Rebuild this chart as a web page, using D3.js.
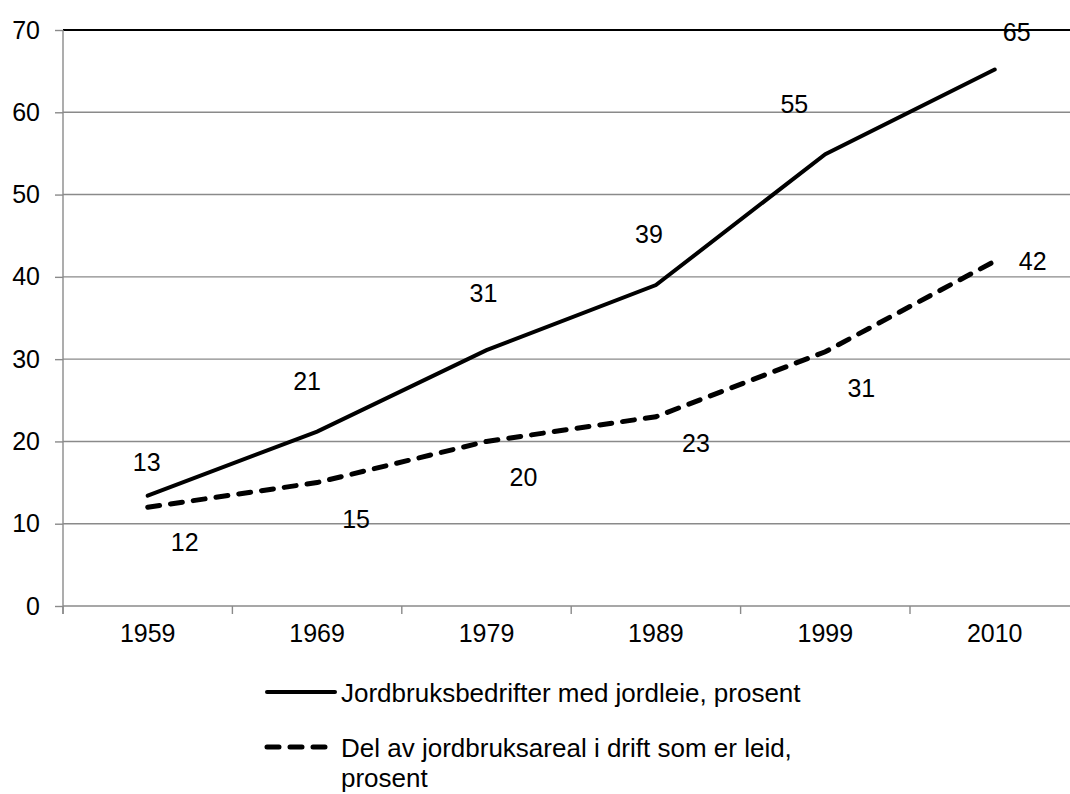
<!DOCTYPE html>
<html>
<head>
<meta charset="utf-8">
<script src="https://cdn.jsdelivr.net/npm/d3@7"></script>
<style>
  body { margin: 0; background: #fff; }
  svg { display: block; font-family: "Liberation Sans", Arial, sans-serif; }
</style>
</head>
<body>
<script>
// data
const years = ['1959', '1969', '1979', '1989', '1999', '2010'];
const withLease = [13.4, 21.2, 31.1, 39.0, 54.9, 65.2];
const leasedArea = [12.0, 15.0, 20.0, 23.0, 30.9, 41.9];
const withLeaseLabels = [13, 21, 31, 39, 55, 65];
const leasedAreaLabels = [12, 15, 20, 23, 31, 42];
const yTicks = [0, 10, 20, 30, 40, 50, 60, 70];
const seriesNames = [
  ['Jordbruksbedrifter med jordleie, prosent'],
  ['Del av jordbruksareal i drift som er leid,', 'prosent'],
];

// label placement (pixel offsets from the point, like excel put them)
const withLeaseOffsets = [[-1, -34], [-10, -51], [-3, -57], [-7, -51], [-31, -50], [22, -37]];
const leasedAreaOffsets = [[37, 35], [39, 36], [37, 36], [40, 26], [36, 36], [38, 0]];

const width = 1070;
const height = 794;
const plotLeft = 63;
const plotTop = 30;
const plotBottom = 606;
const fontSize = 25;
const legendFontSize = 26;
const grey = '#8a8a8a';

const svg = d3.select('body')
  .append('svg')
  .attr('width', width)
  .attr('height', height);

const x = d3.scaleBand()
  .domain(years)
  .range([plotLeft, plotLeft + 6 * 169.4]);

const y = d3.scaleLinear()
  .domain([0, 70])
  .range([plotBottom, plotTop]);

const cx = (d) => x(d) + x.bandwidth() / 2;

// gridlines
svg.selectAll(null)
  .data(yTicks.filter((t) => t > 0))
  .join('line')
  .attr('x1', plotLeft)
  .attr('x2', width)
  .attr('y1', (d) => y(d))
  .attr('y2', (d) => y(d))
  .attr('stroke', (d) => (d === 70 ? '#000' : grey))
  .attr('stroke-width', (d) => (d === 70 ? 2 : 1.4));

// y axis
const yAxis = svg.append('g')
  .attr('transform', `translate(${plotLeft},0)`)
  .call(d3.axisLeft(y).tickValues(yTicks).tickSize(8).tickPadding(15));
yAxis.select('.domain').attr('stroke', grey).attr('stroke-width', 1.4)
  .attr('d', `M0,${plotTop}V${plotBottom + 8}`);
yAxis.selectAll('.tick line').attr('stroke', grey).attr('stroke-width', 1.4);
yAxis.selectAll('.tick text')
  .attr('font-size', fontSize)
  .attr('font-family', '"Liberation Sans", Arial, sans-serif')
  .attr('fill', '#000');

// x axis
svg.append('line')
  .attr('x1', plotLeft).attr('x2', width)
  .attr('y1', plotBottom).attr('y2', plotBottom)
  .attr('stroke', grey).attr('stroke-width', 1.4);

svg.selectAll(null)
  .data(years)
  .join('line')
  .attr('x1', (d) => x(d))
  .attr('x2', (d) => x(d))
  .attr('y1', plotBottom)
  .attr('y2', plotBottom + 8)
  .attr('stroke', grey)
  .attr('stroke-width', 1.4);

svg.selectAll(null)
  .data(years)
  .join('text')
  .attr('x', cx)
  .attr('y', plotBottom + 36)
  .attr('text-anchor', 'middle')
  .attr('font-size', fontSize)
  .text((d) => d);

// lines
const line = (values) => d3.line()
  .x((d, i) => cx(years[i]))
  .y((d) => y(d))(values);

svg.append('path')
  .attr('d', line(withLease))
  .attr('fill', 'none')
  .attr('stroke', '#000')
  .attr('stroke-width', 4)
  .attr('stroke-linecap', 'round');

svg.append('path')
  .attr('d', line(leasedArea))
  .attr('fill', 'none')
  .attr('stroke', '#000')
  .attr('stroke-width', 5)
  .attr('stroke-linecap', 'round')
  .attr('stroke-dasharray', '12,11');

// data labels
const addLabels = (values, labels, offsets) => {
  svg.selectAll(null)
    .data(values)
    .join('text')
    .attr('x', (d, i) => cx(years[i]) + offsets[i][0])
    .attr('y', (d, i) => y(d) + offsets[i][1] + 9)
    .attr('text-anchor', 'middle')
    .attr('font-size', fontSize)
    .text((d, i) => labels[i]);
};
addLabels(withLease, withLeaseLabels, withLeaseOffsets);
addLabels(leasedArea, leasedAreaLabels, leasedAreaOffsets);

// legend
const legendRows = [
  { y: 692, dash: null, width: 4 },
  { y: 747, dash: '12,11', width: 5 },
];
legendRows.forEach((row, i) => {
  svg.append('line')
    .attr('x1', 267).attr('x2', row.dash ? 330 : 335)
    .attr('y1', row.y).attr('y2', row.y)
    .attr('stroke', '#000')
    .attr('stroke-width', row.width)
    .attr('stroke-linecap', 'round')
    .attr('stroke-dasharray', row.dash);
  const t = svg.append('text')
    .attr('x', 341)
    .attr('y', row.y + 9.5)
    .attr('font-size', legendFontSize);
  seriesNames[i].forEach((s, j) => {
    t.append('tspan')
      .attr('x', 341)
      .attr('dy', j === 0 ? 0 : 30)
      .text(s);
  });
});
</script>
</body>
</html>
